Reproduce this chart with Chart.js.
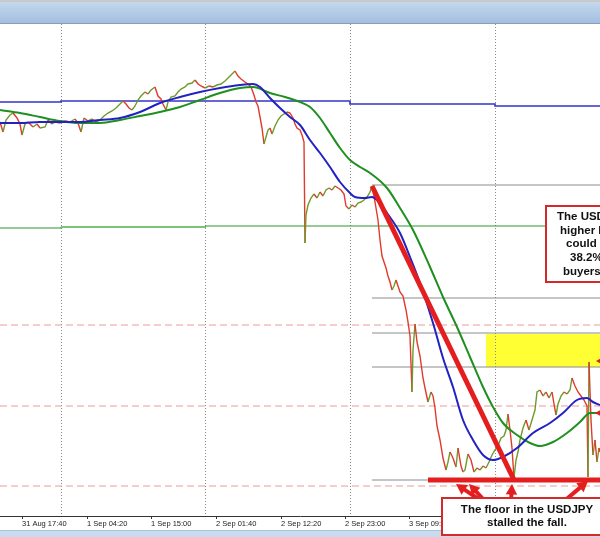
<!DOCTYPE html>
<html>
<head>
<meta charset="utf-8">
<script src="https://cdn.jsdelivr.net/npm/chart.js@4.4.1/dist/chart.umd.min.js"></script>
<style>
  html, body { margin: 0; padding: 0; background: #fff; }
  canvas { display: block; }
</style>
</head>
<body>
<canvas id="chart" width="600" height="537"></canvas>
<script>
// bar index (x) and USDJPY price
const priceBar = [0,3,6,10,13,17,20,22,25,28,33,37,40,45,48,52,55,60,65,70,75,78,81,84,88,92,96,100,
  104,108,112,116,120,123,126,129,132,135,138,141,145,148,151,155,158,161,163,166,168,171,175,178,181,185,
  188,192,195,198,201,205,209,213,217,221,225,228,231,235,238,241,245,248,251,254,256,258,260,262,264,266,
  268,270,272,275,278,281,284,287,290,293,295,297,300,302,304,305,306,308,311,314,317,320,323,326,329,332,
  335,338,341,344,346,349,352,355,358,361,364,367,370,372,374,376,378,380,382,384,386,388,390,392,394,396,
  398,400,403,406,408,410,412,413,415,417,420,423,425,428,431,433,435,437,440,443,446,448,450,453,456,458,
  461,463,465,468,471,474,477,480,483,486,489,492,495,498,501,504,506,508,510,512,514,516,518,520,523,526,
  529,532,535,537,540,543,546,549,552,554,556,558,561,564,567,570,572,575,578,581,584,587,588,589,591,593,
  595,597,599,600];
const priceClose = [146.78,146.68,146.80,146.85,146.87,146.82,146.76,146.65,146.76,146.78,146.73,146.76,146.72,146.73,
  146.80,146.76,146.78,146.77,146.79,146.78,146.81,146.77,146.68,146.82,146.79,146.81,146.78,146.80,
  146.84,146.87,146.89,146.92,146.96,146.99,146.96,146.92,146.90,146.94,147.00,147.04,147.08,147.06,147.10,147.13,
  147.04,147.01,146.96,146.90,146.98,147.03,147.04,147.08,147.11,147.13,
  147.16,147.17,147.20,147.16,147.14,147.12,147.14,147.13,147.15,147.16,147.19,147.22,147.25,147.29,147.24,147.21,
  147.18,147.16,147.13,147.05,146.98,146.94,146.83,146.72,146.56,146.63,
  146.70,146.72,146.66,146.74,146.80,146.84,146.86,146.88,146.87,146.82,146.76,146.72,146.70,146.65,146.58,145.57,
  145.85,145.95,146.02,146.06,146.02,146.08,146.04,146.10,146.12,146.10,
  146.14,146.12,146.10,146.06,145.94,145.91,145.95,145.93,145.97,145.98,146.00,146.03,146.08,146.14,146.04,145.92,
  145.80,145.60,145.44,145.38,145.32,145.24,145.18,145.10,145.14,145.20,
  145.14,145.08,145.04,144.90,144.78,144.64,144.08,144.50,144.76,144.58,144.44,144.22,144.12,143.98,144.08,144.04,
  143.92,143.74,143.60,143.42,143.30,143.38,143.48,143.42,143.33,143.52,
  143.34,143.28,143.30,143.46,143.40,143.28,143.32,143.30,143.34,143.32,143.38,143.45,143.50,143.54,143.62,143.64,
  143.70,143.86,143.70,143.52,143.22,143.40,143.48,143.60,143.72,143.80,
  143.70,143.80,143.90,144.08,144.10,144.04,144.08,144.02,144.08,143.96,143.85,143.96,144.04,144.08,144.06,144.10,
  144.22,144.14,144.08,144.04,144.00,143.94,143.23,144.38,143.80,143.45,
  143.60,143.38,143.52,143.48];

// blue (fast) moving average
const fastMaBar = [0,20,40,60,80,100,120,140,160,180,200,220,240,253,260,270,280,290,300,310,320,330,340,350,
  355,365,372,377,387,400,410,420,433,443,453,463,473,483,493,503,517,533,550,563,577,587,593,600];
const fastMa = [146.77,146.77,146.78,146.78,146.78,146.80,146.82,146.88,146.97,147.03,147.08,147.12,147.15,147.16,
  147.13,147.02,146.92,146.83,146.75,146.60,146.47,146.33,146.18,146.07,146.03,146.02,146.03,146.00,145.87,145.67,
  145.43,145.17,144.77,144.42,144.13,143.80,143.60,143.45,143.40,143.43,143.52,143.67,143.77,143.87,144.00,144.02,
  143.98,143.95];

// green (slow) moving average
const slowMaBar = [0,20,40,60,80,100,120,140,160,180,200,220,240,253,270,285,300,310,320,330,340,350,360,370,
  387,400,413,430,443,457,470,483,493,503,517,530,540,553,567,580,590,600];
const slowMa = [146.90,146.87,146.83,146.79,146.77,146.77,146.80,146.84,146.88,146.93,147.00,147.07,147.12,147.13,
  147.07,147.03,146.98,146.93,146.82,146.67,146.52,146.40,146.33,146.27,146.12,145.92,145.70,145.33,145.03,144.73,
  144.43,144.13,143.93,143.77,143.65,143.57,143.54,143.58,143.67,143.78,143.87,143.87];

// horizontal levels
const pivotBar = [0, 61, 350, 495, 600];
const pivotLevel = [146.98, 146.99, 146.96, 146.94, 146.94];
const supportBar = [0, 61, 205, 600];
const supportLevel = [145.72, 145.73, 145.74, 145.74];
const dashedLevels = [144.75, 143.94, 143.14];
const fibStart = 372, fibEnd = 600;
const fibLevels = [146.15, 145.02, 144.67, 144.33, 143.20];
const trendBar = [372, 514];
const trendPrice = [146.14, 143.20];
const floorBar = [428, 600];
const floorPrice = 143.20;

// time axis
const gridBars = [61, 205, 350, 495];
const tickBars = [22, 87, 151, 216, 281, 345, 409, 474, 538];
const tickLabels = ['31 Aug 17:40', '1 Sep 04:20', '1 Sep 15:00', '2 Sep 01:40', '2 Sep 12:20',
  '2 Sep 23:00', '3 Sep 09:40', '3 Sep 20:20', '4 Sep 07:00'];

// notes
const zone = { x0: 486, x1: 620, top: 144.66, bottom: 144.33 };
const noteTop = { x0: 546, x1: 660, top: 145.94, bottom: 145.18,
  lines: ['The USDJPY moved', 'higher but stalled', 'could not reach', '38.2% retracement', 'buyers turned away'],
  starts: [557, 560, 566, 570, 563],
  prices: [145.83, 145.69, 145.56, 145.42, 145.28] };
const noteBottom = { x0: 442, x1: 612, top: 143.02, bottom: 142.65, cx: 527,
  lines: ['The floor in the USDJPY', 'stalled the fall.'],
  prices: [142.90, 142.77] };
const arrows = [
  { from: [483, 142.98], to: [456, 143.16] },
  { from: [486, 142.98], to: [469, 143.16] },
  { from: [511, 142.98], to: [512, 143.16] },
  { from: [563, 142.98], to: [588, 143.19] }
];
const sideArrows = [[596, 144.39], [595, 143.87]];

const RED = '#e41e1e';

function pts(xs, ys) { return xs.map((x, i) => ({ x, y: ys[i] })); }
function flat(x0, x1, y) { return [{ x: x0, y }, { x: x1, y }]; }

function drawArrow(ctx, x0, y0, x1, y1, w, head) {
  const a = Math.atan2(y1 - y0, x1 - x0);
  ctx.lineWidth = w;
  ctx.beginPath();
  ctx.moveTo(x0, y0);
  ctx.lineTo(x1 - Math.cos(a) * head * 0.7, y1 - Math.sin(a) * head * 0.7);
  ctx.stroke();
  ctx.beginPath();
  ctx.moveTo(x1, y1);
  ctx.lineTo(x1 - head * Math.cos(a - 0.5), y1 - head * Math.sin(a - 0.5));
  ctx.lineTo(x1 - head * Math.cos(a + 0.5), y1 - head * Math.sin(a + 0.5));
  ctx.closePath();
  ctx.fill();
}

const frame = {
  id: 'frame',
  beforeDraw(chart) {
    const { ctx, width } = chart;
    ctx.save();
    ctx.fillStyle = '#fff';
    ctx.fillRect(0, 0, width, chart.height);
    ctx.fillStyle = '#c9c9c9';
    ctx.fillRect(0, 0, width, 2);
    const g = ctx.createLinearGradient(0, 2, 0, 23);
    g.addColorStop(0, '#c4d8ee');
    g.addColorStop(1, '#a3bfdf');
    ctx.fillStyle = g;
    ctx.fillRect(0, 2, width, 21);
    ctx.fillStyle = '#8c9db3';
    ctx.fillRect(0, 23, width, 1);
    ctx.fillStyle = '#aec2da';
    ctx.fillRect(0, 530, width, 1);
    ctx.fillStyle = '#c8dcf1';
    ctx.fillRect(0, 531, width, 6);
    ctx.restore();
  },
  beforeDatasetsDraw(chart) {
    const { ctx, chartArea: a, scales: { x, y } } = chart;
    ctx.save();
    ctx.fillStyle = '#ffff33';
    ctx.fillRect(x.getPixelForValue(zone.x0), y.getPixelForValue(zone.top),
      x.getPixelForValue(zone.x1) - x.getPixelForValue(zone.x0),
      y.getPixelForValue(zone.bottom) - y.getPixelForValue(zone.top));
    ctx.strokeStyle = '#8a8a8a';
    ctx.lineWidth = 1;
    ctx.setLineDash([1, 2]);
    gridBars.forEach(b => {
      const px = Math.round(x.getPixelForValue(b)) + 0.5;
      ctx.beginPath();
      ctx.moveTo(px, a.top);
      ctx.lineTo(px, a.bottom);
      ctx.stroke();
    });
    ctx.restore();
  },
  afterDraw(chart) {
    const { ctx, scales: { x, y } } = chart;
    ctx.save();
    ctx.strokeStyle = RED;
    ctx.fillStyle = RED;
    ctx.lineCap = 'butt';
    arrows.forEach(ar => drawArrow(ctx,
      x.getPixelForValue(ar.from[0]), y.getPixelForValue(ar.from[1]),
      x.getPixelForValue(ar.to[0]), y.getPixelForValue(ar.to[1]), 4, 12));
    sideArrows.forEach(s => drawArrow(ctx, x.getPixelForValue(s[0]) + 12, y.getPixelForValue(s[1]),
      x.getPixelForValue(s[0]), y.getPixelForValue(s[1]), 3, 9));

    [noteTop, noteBottom].forEach(n => {
      const x0 = x.getPixelForValue(n.x0), x1 = x.getPixelForValue(n.x1);
      const t = y.getPixelForValue(n.top), b = y.getPixelForValue(n.bottom);
      ctx.fillStyle = '#fff';
      ctx.fillRect(x0, t, x1 - x0, b - t);
      ctx.strokeStyle = '#d42a2a';
      ctx.lineWidth = 2;
      ctx.strokeRect(x0, t, x1 - x0, b - t);
    });
    ctx.fillStyle = '#111';
    ctx.font = 'bold 11.5px "Liberation Sans", Arial, sans-serif';
    ctx.textBaseline = 'middle';
    ctx.textAlign = 'left';
    noteTop.lines.forEach((s, i) => ctx.fillText(s, noteTop.starts[i], y.getPixelForValue(noteTop.prices[i])));
    ctx.textAlign = 'center';
    noteBottom.lines.forEach((s, i) => ctx.fillText(s, x.getPixelForValue(noteBottom.cx), y.getPixelForValue(noteBottom.prices[i])));
    ctx.restore();
  }
};

const line = (data, color, width, order, extra) => Object.assign({
  data, borderColor: color, borderWidth: width, pointRadius: 0, order, tension: 0, fill: false
}, extra || {});

const datasets = [
  line(pts(trendBar, trendPrice), RED, 5, 0),
  line(flat(floorBar[0], floorBar[1], floorPrice), RED, 5, 0),
  line(pts(fastMaBar, fastMa), '#2222c4', 2, 1, { cubicInterpolationMode: 'monotone' }),
  line(pts(slowMaBar, slowMa), '#1f8f1f', 2, 1, { cubicInterpolationMode: 'monotone' }),
  line(pts(priceBar, priceClose), '#e03a2c', 1.4, 2, {
    segment: { borderColor: c => c.p1.parsed.y >= c.p0.parsed.y ? '#6f9a2a' : '#e03a2c' }
  }),
  line(pts(pivotBar, pivotLevel), '#3535c8', 1.6, 4, { stepped: 'before' }),
  line(pts(supportBar, supportLevel), '#2e962e', 1.2, 4, {
    stepped: 'before',
    segment: { borderColor: c => c.p0DataIndex === 1 ? '#79c479' : '#2e962e',
               borderWidth: c => c.p0DataIndex === 1 ? 2 : 1.2 }
  })
];
fibLevels.forEach(v => datasets.push(line(flat(fibStart, fibEnd, v), '#8c8c8c', 1, 3)));
dashedLevels.forEach(v => datasets.push(line(flat(0, 600, v), '#ec9a9a', 1, 5, { borderDash: [7, 4] })));

new Chart(document.getElementById('chart'), {
  type: 'line',
  data: { datasets },
  plugins: [frame],
  options: {
    responsive: false,
    animation: false,
    devicePixelRatio: 1,
    layout: { padding: { top: 24, bottom: 6, left: 0, right: 0 } },
    plugins: { legend: { display: false }, tooltip: { enabled: false } },
    scales: {
      x: {
        type: 'linear', min: 0, max: 600,
        afterBuildTicks: s => { s.ticks = tickBars.map(v => ({ value: v })); },
        afterFit: s => { s.height = 15; s.paddingLeft = 0; s.paddingRight = 0; },
        ticks: {
          autoSkip: false, maxRotation: 0, minRotation: 0, align: 'start', padding: 0,
          color: '#222', font: { family: '"Liberation Sans", Arial, sans-serif', size: 7.5 },
          callback: (v, i) => tickLabels[i]
        },
        grid: { drawOnChartArea: false, tickLength: 3, color: '#333' },
        border: { color: '#333' }
      },
      y: { display: false, min: 142.84, max: 147.76 }
    }
  }
});
</script>
</body>
</html>
